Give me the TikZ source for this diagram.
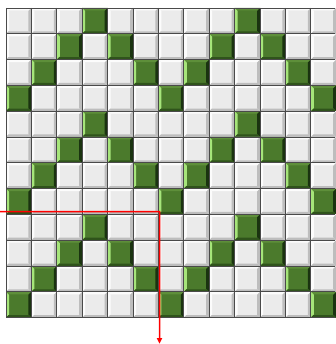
\documentclass[tikz,border=0pt]{standalone}
\usepackage{xcolor}
\usepackage{tikz}
\usetikzlibrary{calc}

\definecolor{paleface}{HTML}{EBEBEB}
\definecolor{palehi}{HTML}{FCFCFC}
\definecolor{palelo}{HTML}{BDBDBD}
\definecolor{greenface}{HTML}{4B7A2C}
\definecolor{greentop}{HTML}{5E8F3A}
\definecolor{greenhi}{HTML}{A6E57A}
\definecolor{greenlo}{HTML}{1A3310}
\definecolor{greenbot}{HTML}{2F531B}
\definecolor{gridgray}{HTML}{4A4A4A}
\definecolor{routered}{HTML}{FF0000}

\tikzset{
  gridline/.style={draw=gridgray, line width=0.9pt},
  route/.style={fill=routered}
}

% one bevelled cell: x, y, face, top, left, right, bottom
\newcommand{\drawtile}[7]{%
  \fill[#3] (#1,#2) rectangle ++(25.4,25.8);
  \fill[#4] (#1,#2) -- ++(25.4,0) -- ++(-2.5,2.5) -- ++(-20.4,0) -- cycle;
  \fill[#5] (#1,#2) -- ++(3,3) -- ++(0,19.8) -- ++(-3,3) -- cycle;
  \fill[#6] (#1+25.4,#2) -- ++(0,25.8) -- ++(-3,-3) -- ++(0,-19.8) -- cycle;
  \fill[#7] (#1,#2+25.8) -- ++(25.4,0) -- ++(-2.5,-2.5) -- ++(-20.4,0) -- cycle;
}

\begin{document}
\begin{tikzpicture}[x=1pt,y=-1pt]
\useasboundingbox (0,0) rectangle (335,344);
% tiles: green where |(col mod 6)-3| = row mod 4
\foreach \r in {0,...,11} \foreach \c in {0,...,12} {
  \pgfmathsetmacro\xa{6+\c*25.4}
  \pgfmathsetmacro\ya{8+\r*25.8}
  \pgfmathtruncatemacro\isgreen{abs(mod(\c,6)-3)==mod(\r,4) ? 1 : 0}
  \ifnum\isgreen=1
    \drawtile{\xa}{\ya}{greenface}{greentop}{greenhi}{greenlo}{greenbot}
  \else
    \drawtile{\xa}{\ya}{paleface}{palehi}{palehi}{palelo}{palelo}
  \fi
}
\foreach \c in {0,...,12} \draw[gridline] (6+\c*25.4,8) -- (6+\c*25.4,317.6);
\foreach \r in {0,...,12} \draw[gridline] (6,8+\r*25.8) -- (335,8+\r*25.8);
% red path, as a thin filled band with its head
\coordinate (entry) at (0,211.5);
\coordinate (bend) at (159.5,211.5);
\coordinate (exit) at (159.5,343.5);
\fill[route] ($(entry)+(0,-0.75)$) -- ($(bend)+(0.75,-0.75)$) -- ($(exit)+(0.75,-4)$)
  -- ($(exit)+(-0.75,-4)$) -- ($(bend)+(-0.75,0.75)$) -- ($(entry)+(0,0.75)$) -- cycle;
\fill[route] (exit) -- ($(exit)+(-2.8,-5.5)$) -- ($(exit)+(2.8,-5.5)$) -- cycle;
\end{tikzpicture}
\end{document}
